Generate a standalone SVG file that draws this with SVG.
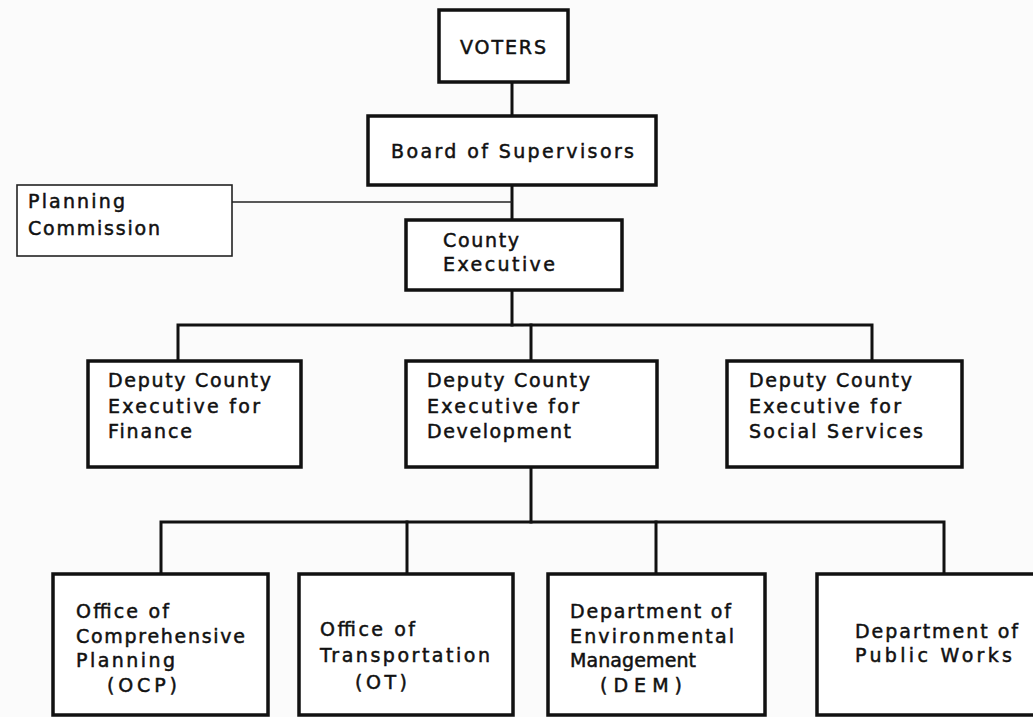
<svg xmlns="http://www.w3.org/2000/svg" width="1033" height="717" viewBox="0 0 1033 717">
<style>
.box{fill:#fff;stroke:#111;stroke-width:3.5}
.thin{fill:#fff;stroke:#222;stroke-width:1.6}
.ln{fill:none;stroke:#111;stroke-width:3;stroke-linecap:square}
.tl{fill:none;stroke:#222;stroke-width:1.6}
text{font-family:"DejaVu Sans","Liberation Sans",sans-serif;font-size:19px;fill:#111;stroke:#111;stroke-width:0.5}
</style>
<rect width="1033" height="717" fill="#fbfbfb"/>
<g id="connectors">
<line class="ln" x1="512" y1="82" x2="512" y2="116"/>
<line class="ln" x1="512" y1="185" x2="512" y2="220"/>
<line class="tl" x1="232" y1="202" x2="512" y2="202"/>
<line class="ln" x1="512" y1="290" x2="512" y2="325"/>
<polyline class="ln" points="178,361 178,325 872,325 872,361"/>
<line class="ln" x1="531" y1="325" x2="531" y2="361"/>
<line class="ln" x1="531" y1="467" x2="531" y2="522"/>
<polyline class="ln" points="161,574 161,522 944,522 944,574"/>
<line class="ln" x1="407" y1="522" x2="407" y2="574"/>
<line class="ln" x1="656" y1="522" x2="656" y2="574"/>
</g>
<g id="voters">
<rect class="box" x="439" y="10" width="129" height="72"/>
<text x="460" y="54" textLength="86" lengthAdjust="spacing">VOTERS</text>
</g>
<g id="board">
<rect class="box" x="368" y="116" width="288" height="69"/>
<text x="391" y="158" textLength="243" lengthAdjust="spacing">Board of Supervisors</text>
</g>
<g id="planning">
<rect class="thin" x="17" y="185" width="215" height="71"/>
<text x="28" y="208" textLength="97" lengthAdjust="spacing">Planning</text>
<text x="28" y="235" textLength="132" lengthAdjust="spacing">Commission</text>
</g>
<g id="county">
<rect class="box" x="406" y="220" width="216" height="70"/>
<text x="443" y="247" textLength="76" lengthAdjust="spacing">County</text>
<text x="443" y="271" textLength="112" lengthAdjust="spacing">Executive</text>
</g>
<g id="finance">
<rect class="box" x="88" y="361" width="213" height="106"/>
<text x="108" y="387" textLength="163" lengthAdjust="spacing">Deputy County</text>
<text x="108" y="413" textLength="152" lengthAdjust="spacing">Executive for</text>
<text x="108" y="438" textLength="84" lengthAdjust="spacing">Finance</text>
</g>
<g id="development">
<rect class="box" x="406" y="361" width="251" height="106"/>
<text x="427" y="387" textLength="163" lengthAdjust="spacing">Deputy County</text>
<text x="427" y="413" textLength="152" lengthAdjust="spacing">Executive for</text>
<text x="427" y="438" textLength="144" lengthAdjust="spacing">Development</text>
</g>
<g id="social">
<rect class="box" x="727" y="361" width="235" height="106"/>
<text x="749" y="387" textLength="163" lengthAdjust="spacing">Deputy County</text>
<text x="749" y="413" textLength="152" lengthAdjust="spacing">Executive for</text>
<text x="749" y="438" textLength="174" lengthAdjust="spacing">Social Services</text>
</g>
<g id="ocp">
<rect class="box" x="53" y="574" width="215" height="141"/>
<text x="76" y="618" textLength="93" lengthAdjust="spacing">Office of</text>
<text x="76" y="643" textLength="169" lengthAdjust="spacing">Comprehensive</text>
<text x="76" y="667" textLength="99" lengthAdjust="spacing">Planning</text>
<text x="107" y="692" textLength="70" lengthAdjust="spacing">(OCP)</text>
</g>
<g id="ot">
<rect class="box" x="299" y="574" width="214" height="141"/>
<text x="320" y="636" textLength="95" lengthAdjust="spacing">Office of</text>
<text x="320" y="662" textLength="170" lengthAdjust="spacing">Transportation</text>
<text x="355" y="689" textLength="52" lengthAdjust="spacing">(OT)</text>
</g>
<g id="dem">
<rect class="box" x="548" y="574" width="217" height="141"/>
<text x="570" y="618" textLength="161" lengthAdjust="spacing">Department of</text>
<text x="570" y="643" textLength="164" lengthAdjust="spacing">Environmental</text>
<text x="570" y="667" textLength="126" lengthAdjust="spacing">Management</text>
<text x="600" y="692" textLength="82" lengthAdjust="spacing">(DEM)</text>
</g>
<g id="publicworks">
<rect class="box" x="817" y="574" width="230" height="141"/>
<text x="855" y="638" textLength="163" lengthAdjust="spacing">Department of</text>
<text x="855" y="662" textLength="157" lengthAdjust="spacing">Public Works</text>
</g>
</svg>
